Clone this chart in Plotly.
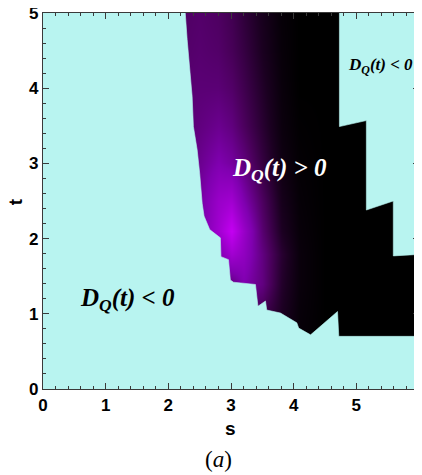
import plotly.graph_objects as go

# ---- data ----
# boundary of the D_Q(t) > 0 region (left / lower edge), s and t
left_s = [2.27, 2.30, 2.38, 2.40, 2.46, 2.50, 2.54, 2.57, 2.66, 2.83, 2.84, 2.96, 2.99, 3.04, 3.39,
          3.43, 3.55, 3.57, 3.79, 4.05, 4.08, 4.27, 4.70, 4.72, 6.00]
left_t = [5.00, 4.65, 3.89, 3.49, 3.18, 2.87, 2.47, 2.30, 2.12, 2.01, 1.76, 1.72, 1.45, 1.42, 1.39,
          1.10, 1.17, 1.05, 1.01, 0.88, 0.81, 0.72, 1.03, 0.70, 0.70]
# staircase boundary on the right (top-right D_Q(t) < 0 region)
right_s = [4.73, 4.73, 5.16, 5.16, 5.59, 5.59, 6.00]
right_t = [5.00, 3.49, 3.57, 2.38, 2.50, 1.77, 1.79]

# intensity of the magenta glow inside the positive region (0 = black, 1 = magenta)
grid_s = [2.2, 2.5, 2.8, 3.0, 3.2, 3.5, 3.8, 4.1, 4.5, 6.3]
grid_t = [0.6, 1.0, 1.4, 1.8, 2.1, 2.5, 3.0, 3.5, 4.0, 4.5, 5.2]
glow = [
    [0.20, 0.25, 0.30, 0.30, 0.30, 0.25, 0.12, 0.03, 0.0, 0.0],
    [0.20, 0.25, 0.30, 0.30, 0.35, 0.30, 0.15, 0.04, 0.0, 0.0],
    [0.30, 0.35, 0.40, 0.45, 0.60, 0.45, 0.18, 0.05, 0.0, 0.0],
    [0.40, 0.50, 0.60, 0.80, 0.70, 0.45, 0.20, 0.05, 0.0, 0.0],
    [0.45, 0.55, 0.80, 1.00, 0.75, 0.40, 0.15, 0.04, 0.0, 0.0],
    [0.45, 0.55, 0.75, 0.80, 0.60, 0.35, 0.12, 0.03, 0.0, 0.0],
    [0.45, 0.50, 0.60, 0.55, 0.45, 0.25, 0.08, 0.02, 0.0, 0.0],
    [0.40, 0.45, 0.50, 0.45, 0.35, 0.20, 0.06, 0.01, 0.0, 0.0],
    [0.40, 0.42, 0.42, 0.38, 0.30, 0.17, 0.05, 0.00, 0.0, 0.0],
    [0.38, 0.40, 0.38, 0.33, 0.26, 0.14, 0.04, 0.00, 0.0, 0.0],
    [0.36, 0.38, 0.35, 0.30, 0.22, 0.12, 0.03, 0.00, 0.0, 0.0],
]

x_ticks = [0, 1, 2, 3, 4, 5, 6]
y_ticks = [0, 1, 2, 3, 4, 5]

CYAN = "#b8f4f0"

fig = go.Figure()

fig.add_trace(go.Heatmap(
    x=grid_s, y=grid_t, z=glow, zsmooth="best", zmin=0, zmax=1, showscale=False,
    colorscale=[[0, "#000000"], [0.15, "#1c0022"], [0.35, "#4c005e"],
                [0.6, "#8000b0"], [1, "#c400f2"]],
    hoverinfo="skip",
))

# negative region, lower-left part (mask)
poly1_s = [-0.1, -0.1, left_s[0]] + left_s + [6.3, 6.3]
poly1_t = [-0.1, 5.3, 5.3] + left_t + [0.70, -0.1]
fig.add_trace(go.Scatter(x=poly1_s, y=poly1_t, fill="toself", fillcolor=CYAN, mode="lines",
                         line=dict(color=CYAN, width=0.6), hoverinfo="skip", showlegend=False))

# negative region, upper-right part
poly2_s = [right_s[0]] + right_s + [6.3, 6.3]
poly2_t = [5.3] + right_t + [right_t[-1], 5.3]
fig.add_trace(go.Scatter(x=poly2_s, y=poly2_t, fill="toself", fillcolor=CYAN, mode="lines",
                         line=dict(color=CYAN, width=0.6), hoverinfo="skip", showlegend=False))

serif = "Liberation Serif"
sans = "Liberation Sans"
fig.add_annotation(x=1.35, y=1.19, xref="x", yref="y", showarrow=False,
                   text="<b><i>D<sub>Q</sub>(t) &lt; 0</i></b>",
                   font=dict(family=serif, size=25, color="black"))
fig.add_annotation(x=3.77, y=2.92, xref="x", yref="y", showarrow=False,
                   text="<b><i>D<sub>Q</sub>(t) &gt; 0</i></b>",
                   font=dict(family=serif, size=25, color="white"))
fig.add_annotation(x=5.39, y=4.29, xref="x", yref="y", showarrow=False,
                   text="<b><i>D<sub>Q</sub>(t) &lt; 0</i></b>",
                   font=dict(family=serif, size=17, color="black"))
fig.add_annotation(x=0.466, y=-0.188, xref="paper", yref="paper", showarrow=False,
                   xanchor="center", yanchor="middle",
                   text="(<i>a</i>)", font=dict(family=serif, size=23, color="black"))
# axis titles
fig.add_annotation(x=0.498, y=-0.106, xref="paper", yref="paper", showarrow=False,
                   xanchor="center", yanchor="middle",
                   text="<b>s</b>", font=dict(family=sans, size=19, color="black"))
fig.add_annotation(x=-0.074, y=0.497, xref="paper", yref="paper", showarrow=False,
                   xanchor="center", yanchor="middle", textangle=-90,
                   text="<b>t</b>", font=dict(family=sans, size=19, color="black"))

axis_common = dict(
    showgrid=False, zeroline=False, showline=True, linecolor="#3a3a3a", linewidth=1.2,
    mirror="allticks", ticks="inside", ticklen=6, tickwidth=1, tickcolor="#3a3a3a",
    tickfont=dict(family=sans, size=17, color="black", weight="bold"),
    minor=dict(ticks="inside", ticklen=3, tickwidth=1, tickcolor="#3a3a3a", dtick=0.2),
    automargin=False, ticklabeloverflow="allow",
)

fig.update_xaxes(range=[0, 6], tickvals=x_ticks, ticktext=[str(v) for v in x_ticks],
                 **axis_common)
fig.update_yaxes(range=[0, 5], tickvals=y_ticks, ticktext=[str(v) for v in y_ticks],
                 **axis_common)

# the page places the figure 8 px from the top-left corner
fig.update_layout(
    width=414, height=467,
    margin=dict(l=35, r=3, t=5, b=86),
    plot_bgcolor=CYAN, paper_bgcolor="white",
    showlegend=False,
)

fig.write_html("out.html")
